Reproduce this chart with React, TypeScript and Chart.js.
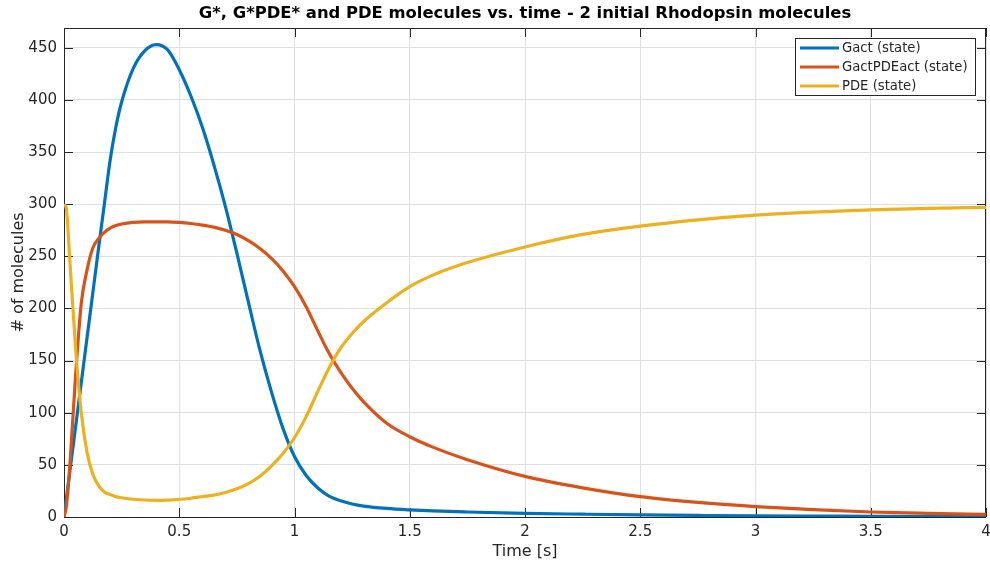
import React, { useEffect, useRef } from "react";
import { Chart, registerables } from "chart.js";

Chart.register(...registerables);

const TITLE = "G*, G*PDE* and PDE molecules vs. time - 2 initial Rhodopsin molecules";
const X_LABEL = "Time [s]";
const Y_LABEL = "# of molecules";
const SERIES_NAMES = ["Gact (state)", "GactPDEact (state)", "PDE (state)"];
const SERIES_COLORS = ["#0072BD", "#D95319", "#EDB120"];

const TIME = [
  0, 0.01, 0.025, 0.05, 0.075, 0.1, 0.125, 0.15, 0.175, 0.2, 0.225, 0.25, 0.3, 0.35, 0.4, 0.45,
  0.5, 0.55, 0.6, 0.65, 0.7, 0.75, 0.8, 0.85, 0.9, 0.95, 1.0, 1.05, 1.1, 1.15, 1.2, 1.25,
  1.3, 1.4, 1.5, 1.6, 1.75, 2.0, 2.25, 2.5, 2.75, 3.0, 3.25, 3.5, 3.75, 4.0,
];
const GACT = [
  0, 17, 43, 86, 129, 172, 215, 258, 300, 342, 374, 398, 430, 447, 453, 448,
  429, 404, 374, 338, 298, 253, 206, 160, 120, 85, 58, 40, 28, 20, 15.5, 12.5,
  10.5, 8.2, 6.8, 5.8, 4.8, 3.5, 2.7, 2, 1.5, 1.1, 0.9, 0.7, 0.5, 0.4,
];
const GACTPDEACT = [
  0, 10, 48, 135, 205, 237, 258, 267, 273, 277, 279.5, 281, 282.5, 283, 283, 283,
  282.5, 281.5, 280, 278, 275, 271, 265, 257.5, 248, 236, 221, 202, 179, 157, 139, 123.5,
  110.5, 90, 77, 67, 55, 39, 28, 19.5, 14, 10, 7, 4.8, 3.5, 2.5,
];
const PDE = [
  300, 296, 247, 163, 100, 62, 41, 30, 24, 21.5, 19.5, 18.5, 17, 16.3, 16, 16.2,
  16.8, 18, 19.5, 21, 23.5, 27, 32, 39, 49, 61, 76, 96, 120, 143, 162, 176,
  187.5, 205.5, 221, 232, 244, 259, 271, 279, 285, 289.5, 292.5, 294.5, 296, 297,
];

const X_MIN = 0;
const X_MAX = 4;
const X_STEP = 0.5;
const Y_MIN = 0;
const Y_MAX = 469;
const Y_STEP = 50;

const AXIS_COLOR = "#262626";
const GRID_COLOR = "#dfdfdf";
const FONT = '"DejaVu Sans", sans-serif';

const matlabPlugin = {
  id: "matlabDecor",
  beforeDatasetsDraw(chart: any) {
    const { ctx, chartArea: a, scales } = chart;
    ctx.save();
    ctx.strokeStyle = AXIS_COLOR;
    ctx.lineWidth = 1;
    const tl = 9;
    ctx.beginPath();
    scales.x.ticks.forEach((t: any) => {
      const px = Math.round(scales.x.getPixelForValue(t.value)) + 0.5;
      ctx.moveTo(px, a.bottom);
      ctx.lineTo(px, a.bottom - tl);
      ctx.moveTo(px, a.top);
      ctx.lineTo(px, a.top + tl);
    });
    scales.y.ticks.forEach((t: any) => {
      const py = Math.round(scales.y.getPixelForValue(t.value)) + 0.5;
      ctx.moveTo(a.left, py);
      ctx.lineTo(a.left + tl, py);
      ctx.moveTo(a.right, py);
      ctx.lineTo(a.right - tl, py);
    });
    ctx.stroke();
    ctx.strokeRect(a.left + 0.5, a.top + 0.5, a.right - a.left - 1, a.bottom - a.top);
    ctx.restore();
  },
  afterDraw(chart: any) {
    const { ctx, chartArea: a } = chart;
    ctx.save();
    // title
    ctx.fillStyle = "#000";
    ctx.font = `bold 16.4px ${FONT}`;
    ctx.textAlign = "center";
    ctx.textBaseline = "middle";
    ctx.fillText(TITLE, (a.left + a.right) / 2, 14);
    // axis titles
    ctx.fillStyle = AXIS_COLOR;
    ctx.font = `16px ${FONT}`;
    ctx.fillText(X_LABEL, (a.left + a.right) / 2, 552);
    ctx.save();
    ctx.translate(19, (a.top + a.bottom) / 2);
    ctx.rotate(-Math.PI / 2);
    ctx.fillText(Y_LABEL, 0, 0);
    ctx.restore();
    // legend
    const lx = 795, ly = 38, lw = 180, lh = 57;
    ctx.fillStyle = "#fff";
    ctx.fillRect(lx, ly, lw, lh);
    ctx.strokeStyle = AXIS_COLOR;
    ctx.lineWidth = 1;
    ctx.strokeRect(lx + 0.5, ly + 0.5, lw, lh);
    ctx.font = `13.2px ${FONT}`;
    ctx.textAlign = "left";
    chart.data.datasets.forEach((ds: any, i: number) => {
      const y = ly + 10 + i * 19;
      ctx.strokeStyle = ds.borderColor;
      ctx.lineWidth = 3;
      ctx.beginPath();
      ctx.moveTo(lx + 5, y);
      ctx.lineTo(lx + 44, y);
      ctx.stroke();
      ctx.fillStyle = AXIS_COLOR;
      ctx.fillText(ds.label, lx + 47, y + 1);
    });
    ctx.restore();
  },
};

export default function App() {
  const ref = useRef<HTMLCanvasElement>(null);
  useEffect(() => {
    const series = [GACT, GACTPDEACT, PDE];
    const chart = new Chart(ref.current!, {
      type: "line",
      data: {
        datasets: series.map((s, i) => ({
          label: SERIES_NAMES[i],
          data: TIME.map((t, j) => ({ x: t, y: s[j] })),
          borderColor: SERIES_COLORS[i],
          backgroundColor: SERIES_COLORS[i],
          borderWidth: 3.2,
          pointRadius: 0,
          cubicInterpolationMode: "monotone" as const,
          order: 2 - i,
        })),
      },
      options: {
        animation: false,
        responsive: false,
        devicePixelRatio: 1,
        layout: { padding: { top: 28, right: 4, left: 0, bottom: 0 } },
        plugins: { legend: { display: false }, tooltip: { enabled: false }, title: { display: false } },
        scales: {
          x: {
            type: "linear",
            min: X_MIN,
            max: X_MAX,
            ticks: {
              stepSize: X_STEP,
              color: AXIS_COLOR,
              font: { family: FONT, size: 15 },
              padding: 6,
              maxRotation: 0,
              callback: (v: any) => String(Number(v)),
            },
            grid: { color: GRID_COLOR, drawTicks: false },
            border: { display: false },
            afterFit: (s: any) => {
              s.height = 47;
              s.paddingLeft = 0;
              s.paddingRight = 0;
            },
          },
          y: {
            type: "linear",
            min: Y_MIN,
            max: Y_MAX,
            ticks: { stepSize: Y_STEP, color: AXIS_COLOR, font: { family: FONT, size: 15 }, padding: 7 },
            afterBuildTicks: (s: any) => {
              s.ticks = s.ticks.filter((t: any) => t.value % Y_STEP === 0);
            },
            grid: { color: GRID_COLOR, drawTicks: false },
            border: { display: false },
            afterFit: (s: any) => {
              s.width = 64;
              s.paddingTop = 0;
              s.paddingBottom = 0;
            },
          },
        },
      },
      plugins: [matlabPlugin],
    });
    return () => chart.destroy();
  }, []);
  return (
    <div style={{ position: "fixed", left: 0, top: 0, width: 990, height: 564, background: "#fff" }}>
      <canvas ref={ref} width={990} height={564} />
    </div>
  );
}
